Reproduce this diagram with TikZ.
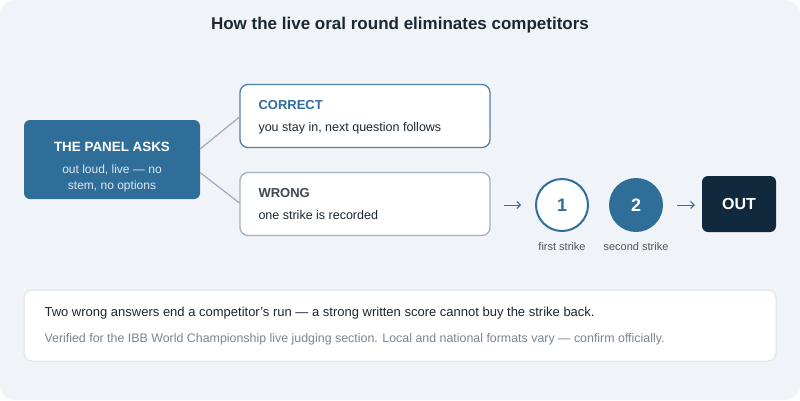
\documentclass[tikz,border=0pt]{standalone}
\usepackage{fontspec}
\setmainfont{Liberation Sans}
\usetikzlibrary{arrows.meta}
\definecolor{bg}{HTML}{F0F3F7}
\definecolor{blue}{HTML}{2F6E99}
\definecolor{bluebd}{HTML}{4F82A8}
\definecolor{greybd}{HTML}{A3B1C4}
\definecolor{dark}{HTML}{1B2733}
\definecolor{navy}{HTML}{10293D}
\definecolor{wrongtxt}{HTML}{3D4852}
\definecolor{lbl}{HTML}{4C5661}
\definecolor{note}{HTML}{7A8591}
\definecolor{conn}{HTML}{9CABBD}
\definecolor{notebd}{HTML}{DCE2EA}
\definecolor{sub}{HTML}{DCE7F0}
\tikzset{
  box/.style={draw, fill=white, rounded corners=8pt, line width=1.3pt, minimum width=250pt, minimum height=63pt},
  circ/.style={circle, minimum size=52pt, inner sep=0pt, line width=2pt, draw=blue, font=\fontsize{18}{20}\selectfont\bfseries},
  conline/.style={conn, line width=1.2pt},
  arr/.style={blue, line width=1pt, -{Straight Barb[length=3.5pt,width=7pt]}},
  lblst/.style={lbl, font=\fontsize{11}{13}\selectfont},
  head/.style={font=\fontsize{13}{15}\selectfont\bfseries},
  body/.style={dark, font=\fontsize{12.5}{15}\selectfont}
}
\begin{document}
\begin{tikzpicture}[x=1pt,y=-1pt]
\useasboundingbox (0,0) rectangle (800,400);
\fill[white] (0,0) rectangle (800,400);
\fill[bg, rounded corners=14pt] (0,0) rectangle (800,400);
\node[dark, font=\fontsize{17}{20}\selectfont\bfseries] (title) at (400,25) {How the live oral round eliminates competitors};
% panel
\node[fill=blue, rounded corners=6pt, minimum width=176pt, minimum height=79pt, inner sep=0pt] (panel) at (112,159.5) {};
\node[white, font=\fontsize{13.4}{16}\selectfont\bfseries] (ptitle) at (112,147) {THE PANEL ASKS};
\node[sub, font=\fontsize{12}{16}\selectfont, align=center] (psub) at (112,178.5) {out loud, live — no\\stem, no options};
% correct / wrong
\node[box, draw=bluebd] (correct) at (365,116) {};
\node[box, draw=greybd] (wrong) at (365,204) {};
\node[anchor=west, blue, head] (ctitle) at (255,105) {CORRECT};
\node[anchor=west, body] (ctext) at (255,128) {you stay in, next question follows};
\node[anchor=west, wrongtxt, head] (wtitle) at (255,193) {WRONG};
\node[anchor=west, body] (wtext) at (255,215.5) {one strike is recorded};
\coordinate (p1) at (200,149);
\coordinate (p2) at (200,172.5);
\coordinate (c1in) at (239.5,117);
\coordinate (w1in) at (239.5,203);
\draw[conline] (p1) -- (c1in);
\draw[conline] (p2) -- (w1in);
% strikes
\node[circ, fill=white, text=blue] (s1) at (562,205) {1};
\node[circ, fill=blue, text=white] (s2) at (636,205) {2};
\node[fill=navy, rounded corners=6pt, minimum width=74pt, minimum height=56pt, inner sep=0pt, text=white, font=\fontsize{16}{18}\selectfont\bfseries] (out) at (739,204) {OUT};
\node[lblst] (l1) at (562,247) {first strike};
\node[lblst] (l2) at (636,247) {second strike};
\draw[arr, shorten <=13pt, shorten >=14pt] (wrong.east |- s1) -- (s1.west);
\draw[arr, shorten <=14pt, shorten >=7pt] (s2.east) -- (out.west |- s2);
% note
\node[draw=notebd, fill=white, rounded corners=8pt, line width=1pt, minimum width=752pt, minimum height=71pt, inner sep=0pt] (notebox) at (400,325.5) {};
\node[anchor=west, dark, font=\fontsize{13}{15}\selectfont] (n1) at (41,313) {Two wrong answers end a competitor’s run — a strong written score cannot buy the strike back.};
\node[anchor=west, note, font=\fontsize{12.4}{14}\selectfont] (n2) at (41,339) {Verified for the IBB World Championship live judging section. Local and national formats vary — confirm officially.};
\end{tikzpicture}
\end{document}
